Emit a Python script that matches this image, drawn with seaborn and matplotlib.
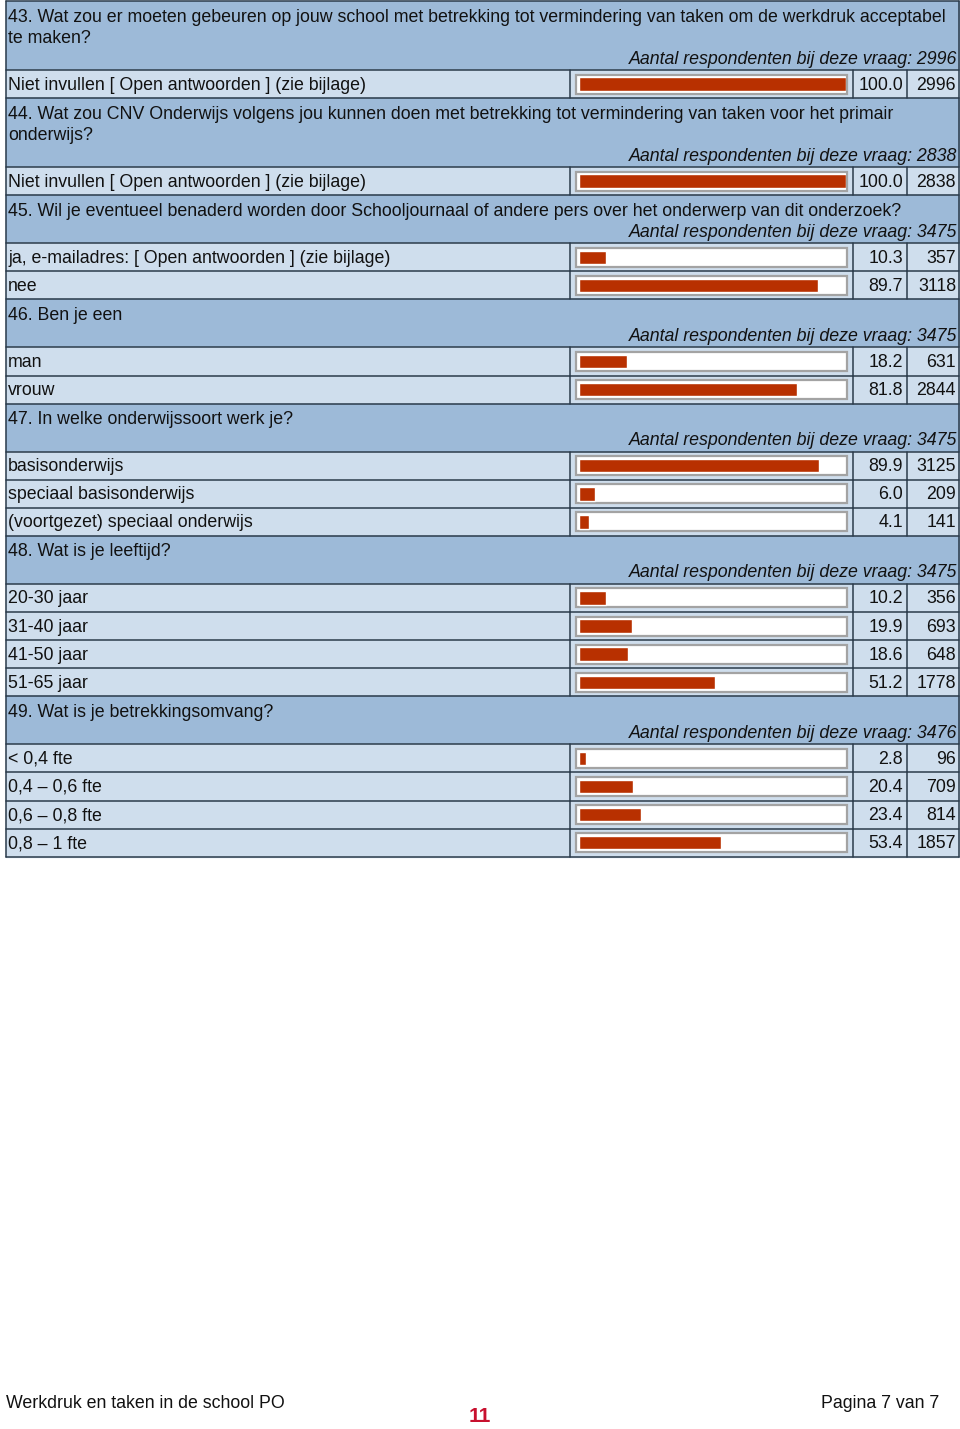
import matplotlib.pyplot as plt
import seaborn as sns
from matplotlib.patches import Rectangle

# --- Data read from the survey page ---

q_titles = [
    ["43. Wat zou er moeten gebeuren op jouw school met betrekking tot vermindering van taken om de werkdruk acceptabel",
     "te maken?"],
    ["44. Wat zou CNV Onderwijs volgens jou kunnen doen met betrekking tot vermindering van taken voor het primair",
     "onderwijs?"],
    ["45. Wil je eventueel benaderd worden door Schooljournaal of andere pers over het onderwerp van dit onderzoek?"],
    ["46. Ben je een"],
    ["47. In welke onderwijssoort werk je?"],
    ["48. Wat is je leeftijd?"],
    ["49. Wat is je betrekkingsomvang?"],
]
q_totals = [2996, 2838, 3475, 3475, 3475, 3475, 3476]

answer_labels = [
    ["Niet invullen [ Open antwoorden ] (zie bijlage)"],
    ["Niet invullen [ Open antwoorden ] (zie bijlage)"],
    ["ja, e-mailadres: [ Open antwoorden ] (zie bijlage)", "nee"],
    ["man", "vrouw"],
    ["basisonderwijs", "speciaal basisonderwijs", "(voortgezet) speciaal onderwijs"],
    ["20-30 jaar", "31-40 jaar", "41-50 jaar", "51-65 jaar"],
    ["< 0,4 fte", "0,4 \u2013 0,6 fte", "0,6 \u2013 0,8 fte", "0,8 \u2013 1 fte"],
]
answer_pct = [
    [100.0],
    [100.0],
    [10.3, 89.7],
    [18.2, 81.8],
    [89.9, 6.0, 4.1],
    [10.2, 19.9, 18.6, 51.2],
    [2.8, 20.4, 23.4, 53.4],
]
answer_counts = [
    [2996],
    [2838],
    [357, 3118],
    [631, 2844],
    [3125, 209, 141],
    [356, 693, 648, 1778],
    [96, 709, 814, 1857],
]

# --- Style ---
W, H = 960, 1429
HEAD_BG = "#9dbad8"
ROW_BG = "#cfdeed"
LINE = "#2b3b4b"
BAR_RED = "#b83000"
BOX_EDGE = "#a3a3a3"
FS = 12.75

sns.set_theme(style="white")
plt.rcParams["font.family"] = ["Liberation Sans", "DejaVu Sans"]

fig = plt.figure(figsize=(W / 100, H / 100), dpi=100)
fig.patch.set_facecolor("white")
ax = fig.add_axes([0, 0, 1, 1])
ax.set_xlim(0, W)
ax.set_ylim(H, 0)
ax.axis("off")

# bar axes: x in percent, y in page pixels
BAR_X0, BAR_X1 = 578.5, 845.5
bax = fig.add_axes([BAR_X0 / W, 0, (BAR_X1 - BAR_X0) / W, 1])
bax.set_xlim(0, 100)
bax.set_ylim(H, 0)
bax.axis("off")
bax.patch.set_alpha(0)

X0, X1 = 6, 959
C1, C2, C3 = 570, 853, 907
ROW_H = 28.1

y = 1.0
bar_y, bar_v = [], []
hlines = [y]
for title, total, labels, pcts, counts in zip(q_titles, q_totals, answer_labels,
                                              answer_pct, answer_counts):
    head_h = 69 if len(title) == 2 else 48
    ax.add_patch(Rectangle((X0, y), X1 - X0, head_h, color=HEAD_BG, zorder=0))
    for i, line in enumerate(title):
        ax.text(8, y + 16 + 21 * i, line, fontsize=FS, va="center", ha="left", color="#111111")
    ax.text(957, y + head_h - 11, f"Aantal respondenten bij deze vraag: {total}",
            fontsize=FS, style="italic", va="center", ha="right", color="#111111")
    y += head_h
    hlines.append(y)
    for lab, p, c in zip(labels, pcts, counts):
        ax.add_patch(Rectangle((X0, y), X1 - X0, ROW_H, color=ROW_BG, zorder=0))
        cy = y + ROW_H / 2
        ax.text(8, cy + 1, lab, fontsize=FS, va="center", ha="left", color="#111111")
        ax.add_patch(Rectangle((576, cy - 9.5), 271, 19, facecolor="white",
                               edgecolor=BOX_EDGE, lw=1.6, zorder=1))
        ax.text(903, cy + 1, f"{p:.1f}", fontsize=FS, va="center", ha="right", color="#111111")
        ax.text(956, cy + 1, f"{c}", fontsize=FS, va="center", ha="right", color="#111111")
        for cx in (C1, C2, C3):
            ax.plot([cx, cx], [y, y + ROW_H], color=LINE, lw=1.1, zorder=2)
        bar_y.append(cy)
        bar_v.append(p)
        y += ROW_H
        hlines.append(y)

bax.barh(bar_y, bar_v, height=13.5, left=0, color=BAR_RED, zorder=3)

for hy in hlines:
    ax.plot([X0, X1], [hy, hy], color=LINE, lw=1.1, zorder=2)
ax.plot([X0, X0], [hlines[0], hlines[-1]], color=LINE, lw=1.1, zorder=2)
ax.plot([X1, X1], [hlines[0], hlines[-1]], color=LINE, lw=1.1, zorder=2)

# --- Footer ---
ax.text(6, 1404, "Werkdruk en taken in de school PO", fontsize=12.8,
        va="center", ha="left", color="#111111")
ax.text(939, 1404, "Pagina 7 van 7", fontsize=12.8,
        va="center", ha="right", color="#111111")
ax.text(480, 1417, "11", fontsize=15, fontweight="bold", va="center", ha="center",
        color="#c8102e")

fig.savefig("out.png", dpi=100)
